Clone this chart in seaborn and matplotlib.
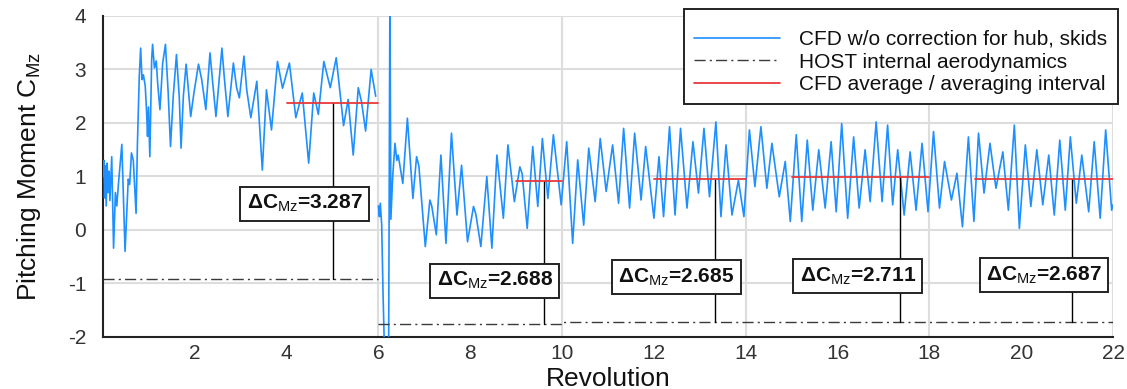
import numpy as np
import pandas as pd
import matplotlib
matplotlib.use("Agg")
import matplotlib.pyplot as plt
from matplotlib.lines import Line2D
from matplotlib.ticker import MultipleLocator, FixedLocator
import seaborn as sns

# CFD pitching moment history (revolution, C_Mz), start-up phase and restart phase
rev_start = [0.00, 0.02, 0.035, 0.05, 0.07, 0.09, 0.11, 0.13, 0.15, 0.19, 0.23, 0.27, 0.30, 0.34,
             0.41, 0.48, 0.55, 0.58, 0.62, 0.66, 0.72, 0.75, 0.79, 0.82, 0.85, 0.88, 0.92, 0.95,
             0.97, 0.99, 1.02, 1.06, 1.08, 1.12, 1.16, 1.19, 1.24, 1.30, 1.36, 1.42, 1.47, 1.53,
             1.60, 1.66, 1.70, 1.75, 1.81, 1.86, 1.91, 1.98, 2.08, 2.15, 2.24, 2.33, 2.39, 2.46,
             2.59, 2.64, 2.72, 2.84, 2.91, 2.97, 3.07, 3.13, 3.22, 3.35, 3.47, 3.56, 3.67, 3.80,
             3.91, 4.06, 4.20, 4.34, 4.48, 4.59, 4.69, 4.81, 4.95, 5.08, 5.24, 5.34, 5.45, 5.56,
             5.63, 5.72, 5.84, 5.94]
cmz_start = [1.00, 1.30, 0.60, 1.20, 0.45, 1.25, 0.70, 1.10, 0.55, 1.37, -0.34, 0.70, 0.45, 0.90,
             1.60, -0.40, 0.95, 0.85, 1.44, 1.30, 0.31, 1.62, 2.87, 3.40, 2.81, 2.90, 2.69, 2.19,
             1.75, 2.30, 1.37, 3.19, 3.47, 3.03, 3.16, 2.75, 2.25, 3.12, 3.47, 2.56, 1.56, 2.50,
             3.28, 2.50, 1.53, 2.50, 3.10, 2.62, 2.12, 2.56, 3.10, 2.81, 2.25, 3.31, 2.75, 2.12,
             3.40, 2.87, 2.12, 3.12, 2.66, 2.47, 3.25, 2.62, 2.10, 2.78, 1.12, 2.62, 1.87, 3.15,
             2.65, 3.12, 2.10, 2.56, 1.25, 2.56, 2.16, 3.15, 2.66, 3.22, 1.95, 2.44, 1.40, 2.66,
             2.40, 1.85, 3.00, 2.50]

rev_restart = [6.00, 6.02, 6.04, 6.07, 6.10, 6.14, 6.22, 6.25, 6.27, 6.31, 6.36, 6.40, 6.43, 6.53,
               6.63, 6.75, 6.83, 6.88, 7.02, 7.12, 7.16, 7.26, 7.36, 7.47, 7.59, 7.71, 7.81, 7.94,
               8.07, 8.12, 8.23, 8.36, 8.47, 8.58, 8.72, 8.82, 8.96, 9.08, 9.13, 9.24, 9.36, 9.47,
               9.57, 9.69, 9.81, 9.98, 10.10, 10.23, 10.34, 10.47, 10.58, 10.72, 10.83, 10.96,
               11.10, 11.23, 11.34, 11.47, 11.58, 11.72, 11.82, 12.00, 12.11, 12.21, 12.34, 12.46,
               12.58, 12.72, 12.85, 12.97, 13.09, 13.21, 13.35, 13.46, 13.57, 13.70, 13.84, 13.96,
               14.08, 14.20, 14.33, 14.46, 14.57, 14.73, 14.86, 14.97, 15.10, 15.22, 15.34, 15.46,
               15.59, 15.73, 15.86, 15.97, 16.09, 16.22, 16.35, 16.47, 16.60, 16.71, 16.84, 16.97,
               17.09, 17.20, 17.31, 17.45, 17.58, 17.71, 17.84, 17.97, 18.09, 18.22, 18.33, 18.48,
               18.60, 18.72, 18.85, 18.97, 19.07, 19.19, 19.32, 19.45, 19.60, 19.72, 19.85, 19.96,
               20.09, 20.21, 20.34, 20.47, 20.60, 20.72, 20.84, 20.96, 21.07, 21.20, 21.32, 21.47,
               21.59, 21.72, 21.84, 21.97, 22.00]
cmz_restart = [0.45, 0.25, 0.50, 0.10, -1.20, -2.60, -2.60, 4.60, 0.20, 1.00, 1.62, 1.30, 1.40, 0.87,
               2.09, 0.59, 1.37, 1.20, -0.31, 0.56, 0.45, -0.09, 1.40, -0.25, 1.81, 0.28, 1.21, -0.22,
               0.44, 0.30, -0.31, 1.00, -0.34, 1.40, 0.22, 1.59, 0.53, 1.18, 1.05, 0.03, 1.56, 0.44,
               1.71, 0.59, 1.78, 0.47, 1.65, -0.25, 1.31, 0.09, 1.53, 0.53, 1.71, 0.72,
               1.59, 0.50, 1.90, 0.41, 1.81, 0.56, 1.56, 0.22, 1.37, 0.25, 1.93, 0.28,
               1.90, 0.41, 1.65, 0.69, 1.90, 0.62, 2.02, 0.25, 1.59, 0.28, 0.93, 0.25,
               1.87, 0.81, 1.93, 0.78, 1.62, 0.62, 1.28, 0.16, 1.78, 0.16, 1.68, 0.37,
               1.50, 0.41, 1.65, 0.34, 1.99, 0.22, 1.74, 0.41, 1.50, 0.53, 2.02, 0.53,
               1.96, 0.47, 1.50, 0.28, 1.46, 0.37, 1.62, 0.34, 1.84, 0.41, 1.28, 0.56,
               1.06, 0.06, 1.74, 0.16, 1.81, 0.69, 1.62, 0.78, 1.46, 0.37, 1.96, 0.03,
               1.59, 0.44, 1.50, 0.47, 1.40, 0.28, 1.68, 0.37, 1.74, 0.50, 1.40, 0.34,
               1.65, 0.22, 1.87, 0.37, 0.47]

# HOST internal aerodynamics level per phase
host_x = [[0.0, 6.0], [6.0, 10.0, 10.0, 22.0]]
host_y = [[-0.907, -0.907], [-1.765, -1.765, -1.725, -1.725]]

# CFD averaging intervals and the resulting offsets to HOST
avg_start = [4.0, 9.0, 12.0, 15.0, 19.0]
avg_end = [6.0, 10.0, 14.0, 18.0, 22.0]
host_ref = [-0.907, -1.765, -1.725, -1.725, -1.725]
delta_cmz = [3.287, 2.688, 2.685, 2.711, 2.687]
marker_x = [5.0, 9.61, 13.34, 17.36, 21.1]
label_xy = [(4.39, 0.49), (8.53, -0.95), (12.49, -0.88), (16.44, -0.86), (20.5, -0.84)]

legend_labels = ["CFD w/o correction for hub, skids",
                 "HOST internal aerodynamics",
                 "CFD average / averaging interval"]

blue = "#1E8FFF"
red = "#E8383C"
host_col = "#3a3a3a"

sns.set_theme(style="white")
plt.rcParams["font.family"] = ["Liberation Sans", "DejaVu Sans"]
plt.rcParams["mathtext.fontset"] = "custom"
plt.rcParams["mathtext.rm"] = "Liberation Sans"
plt.rcParams["mathtext.it"] = "Liberation Sans:italic"
plt.rcParams["mathtext.bf"] = "Liberation Sans:bold"
plt.rcParams["axes.unicode_minus"] = False

fig = plt.figure(figsize=(11.27, 3.89), dpi=100)
ax = fig.add_axes([0.0914, 0.1337, 0.8962, 0.8252])

df = pd.concat([
    pd.DataFrame({"rev": rev_start, "cmz": cmz_start, "phase": "start"}),
    pd.DataFrame({"rev": rev_restart, "cmz": cmz_restart, "phase": "restart"}),
], ignore_index=True)
sns.lineplot(data=df, x="rev", y="cmz", units="phase", estimator=None, sort=False,
             color=blue, linewidth=1.2, ax=ax, zorder=3)

for hx, hy in zip(host_x, host_y):
    ax.plot(hx, hy, color=host_col, linestyle=(0, (8, 3, 1.5, 3)), linewidth=1.0, zorder=4)

for x0, x1, h, d, mx, (lx, ly) in zip(avg_start, avg_end, host_ref, delta_cmz, marker_x, label_xy):
    mean = h + d
    ax.plot([mx, mx], [h, mean], color="black", linewidth=1.0, zorder=4)
    ax.plot([x0, x1], [mean, mean], color=red, linewidth=1.3, zorder=5)
    ax.text(lx, ly, "ΔC$_{\\mathrm{Mz}}$=%.3f" % d, fontsize=15, fontweight="bold",
            ha="center", va="center", color="#111111", zorder=6,
            bbox=dict(boxstyle="square,pad=0.3", facecolor="white", edgecolor="#222222",
                      linewidth=1.4))

ax.set_xlim(0, 22)
ax.set_ylim(-2, 4)
ax.xaxis.set_major_locator(FixedLocator(np.arange(2, 23, 2)))
ax.xaxis.set_minor_locator(MultipleLocator(0.5))
ax.yaxis.set_major_locator(MultipleLocator(1))
ax.yaxis.set_minor_locator(MultipleLocator(0.2))
ax.tick_params(which="both", direction="in", colors="#222222", labelcolor="#333333",
               labelsize=15, top=False, right=False)
ax.tick_params(which="major", length=8, width=1.2)
ax.tick_params(which="minor", length=4, width=1.0)
ax.tick_params(axis="y", pad=12)
ax.tick_params(axis="x", pad=5)

for yv in range(-1, 5):
    ax.axhline(yv, color="#dddddd", linewidth=1.5, zorder=1)
for xv in [6, 10, 14, 18, 22]:
    ax.axvline(xv, color="#dddddd", linewidth=1.5, zorder=1)

for side in ["top", "right"]:
    ax.spines[side].set_visible(False)
for side in ["left", "bottom"]:
    ax.spines[side].set_color("#222222")
    ax.spines[side].set_linewidth(1.5)

ax.set_xlabel("Revolution", fontsize=19, labelpad=3, color="#111111")
ax.set_ylabel("Pitching Moment C$_{\\mathregular{Mz}}$", fontsize=19, labelpad=18, color="#111111")

handles = [Line2D([], [], color=blue, linewidth=1.2),
           Line2D([], [], color=host_col, linestyle=(0, (8, 3, 1.5, 3)), linewidth=1.0),
           Line2D([], [], color=red, linewidth=1.3)]
leg = fig.legend(handles, legend_labels, loc="upper right",
                 bbox_to_anchor=(1118 / 1127, 1 - 9 / 389), fontsize=15, frameon=True,
                 fancybox=False, edgecolor="#222222", framealpha=1, handlelength=4.1,
                 handletextpad=0.95, labelspacing=0.17, borderpad=0.5, borderaxespad=0,
                 title=" ", title_fontsize=6)
leg.get_frame().set_linewidth(1.4)
for t in leg.get_texts():
    t.set_color("#111111")

fig.savefig("out.png", dpi=100)
